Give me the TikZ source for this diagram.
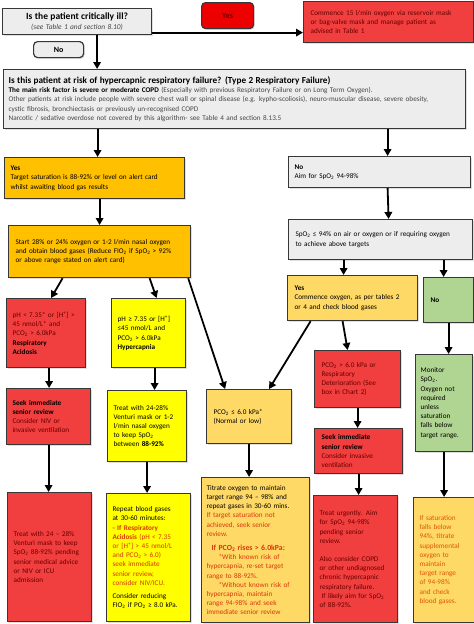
\documentclass[tikz,border=0pt]{standalone}
\usepackage{fontspec}
\setmainfont{Carlito}
\usetikzlibrary{arrows.meta,shadows}

\definecolor{boxline}{RGB}{55,55,55}
\definecolor{greyfill}{RGB}{237,237,237}
\definecolor{greytext}{RGB}{70,70,70}
\definecolor{yesred}{RGB}{236,0,0}
\definecolor{redfill}{RGB}{241,62,62}
\definecolor{amberfill}{RGB}{255,192,0}
\definecolor{paleamber}{RGB}{255,217,102}
\definecolor{yellowfill}{RGB}{255,255,0}
\definecolor{greenfill}{RGB}{176,212,146}
\definecolor{redtext}{RGB}{105,0,0}
\definecolor{warntext}{RGB}{215,55,10}
\definecolor{sattext}{RGB}{220,85,10}

\tikzset{
    box/.style={draw=boxline, line width=1.2pt, anchor=north west, align=left,
        inner xsep=5pt, inner ysep=2pt, font=\fontsize{7.2}{9.2}\selectfont,
        drop shadow={shadow xshift=1.2pt, shadow yshift=-1.2pt, fill=black!25}},
    size/.style 2 args={minimum width=#1, minimum height=#2, text width=#1-10pt},
    arr/.style={-{Triangle[length=7pt,width=7.5pt]}, line width=1.8pt}
}

\begin{document}
\begin{tikzpicture}[x=1pt, y=-1pt]
    \useasboundingbox (0,0) rectangle (474,624);

    % first question
    \node (crit) [box, fill=greyfill, size={149}{26}, align=center] at (2,8) {
        {\fontsize{9.5}{10.5}\selectfont\bfseries Is the patient critically ill?}\\
        {\fontsize{7.4}{8.5}\selectfont\itshape\color{greytext}(see Table 1 and section 8.10)}
    };
    \node (yes) [box, fill=yesred, rounded corners=4pt, size={52}{26}, align=center] at (201,2) {
        \fontsize{8}{9}\selectfont\color{redtext}\textbf{Yes}
    };
    \node (comm) [box, fill=redfill, size={166}{41}, inner xsep=7pt] at (303,1) {
        \color{redtext}Commence 15 l/min oxygen via reservoir mask\\
        or bag-valve mask and manage patient as\\
        advised in Table 1
    };
    \node (no) [box, fill=greyfill, rounded corners=4pt, size={50}{16}, align=center] at (33,41) {
        \fontsize{8}{9}\selectfont\textbf{No}
    };

    % risk of type 2 failure
    \node (risk) [box, fill=greyfill, size={462}{59}] at (3,69) {
        {\fontsize{9.2}{10.5}\selectfont\bfseries Is this patient at risk of hypercapnic respiratory failure? (Type 2 Respiratory Failure)}\\
        \textbf{The main risk factor is severe or moderate COPD} {\color{greytext}(Especially with previous Respiratory Failure or on Long Term Oxygen).}\\
        {\color{greytext}Other patients at risk include people with severe chest wall or spinal disease (e.g. kypho-scoliosis), neuro-muscular disease, severe obesity,}\\
        {\color{greytext}cystic fibrosis, bronchiectasis or previously un-recognised COPD}\\
        {\color{greytext}Narcotic / sedative overdose not covered by this algorithm- see Table 4 and section 8.13.5}
    };

    % left branch
    \node (yesl) [box, fill=amberfill, size={178}{41}, inner xsep=6pt] at (4,157) {
        \textbf{Yes}\\
        Target saturation is 88-92\% or level on alert card\\
        whilst awaiting blood gas results
    };
    \node (start) [box, fill=amberfill, size={178}{52}, inner xsep=7pt] at (8,225) {
        Start 28\% or 24\% oxygen or 1-2 l/min nasal oxygen\\
        and obtain blood gases (Reduce FIO\textsubscript{2} if SpO\textsubscript{2} > 92\%\\
        or above range stated on alert card)
    };
    \node (acid) [box, fill=redfill, size={77}{69}, inner xsep=6pt] at (6,298) {
        \color{redtext}pH < 7.35* or [H\textsuperscript{+}] >\\
        45 nmol/L* and\\
        PCO\textsubscript{2} > 6.0kPa\\
        {\color{black}\textbf{Respiratory}}\\
        {\color{black}\textbf{Acidosis}}
    };
    \node (hyper) [box, fill=yellowfill, size={72}{69}, inner xsep=6pt] at (111,298) {
        pH ≥ 7.35 or [H\textsuperscript{+}]\\
        ≤45 nmol/L and\\
        PCO\textsubscript{2} > 6.0kPa\\
        \textbf{Hypercapnia}
    };
    \node (seekl) [box, fill=redfill, size={82}{56}, inner xsep=6pt] at (6,388) {
        \textbf{Seek immediate}\\
        \textbf{senior review}\\
        {\color{redtext}Consider NIV or}\\
        {\color{redtext}invasive ventilation}
    };
    \node (treaty) [box, fill=yellowfill, size={77}{71}, inner xsep=6pt] at (107,390) {
        Treat with 24-28\%\\
        Venturi mask or 1-2\\
        l/min nasal oxygen\\
        to keep SpO\textsubscript{2}\\
        between \textbf{88-92\%}
    };
    \node (treatl) [box, fill=redfill, size={82}{129}, inner xsep=6pt] at (7,492) {
        \color{redtext}Treat with 24 – 28\%\\
        Venturi mask to keep\\
        SpO\textsubscript{2} 88-92\% pending\\
        senior medical advice\\
        or NIV or ICU\\
        admission
    };
    \node (repeat) [box, fill=yellowfill, size={82}{128}, inner xsep=6pt] at (106,493) {
        Repeat blood gases\\
        at 30-60 minutes:\\
        {\color{warntext}\textbf{- If Respiratory}}\\
        {\color{warntext}\textbf{Acidosis} (pH < 7.35}\\
        {\color{warntext}or [H\textsuperscript{+}] > 45 nmol/L}\\
        {\color{warntext}and PCO\textsubscript{2} > 6.0)}\\
        {\color{warntext}seek immediate}\\
        {\color{warntext}senior review,}\\
        {\color{warntext}consider NIV/ICU.}\\[4pt]
        Consider reducing\\
        FIO\textsubscript{2} if PO\textsubscript{2} ≥ 8.0 kPa.
    };

    % middle column
    \node (pcolo) [box, fill=paleamber, size={81}{54}, inner xsep=7pt] at (206,389) {
        PCO\textsubscript{2} ≤ 6.0 kPa*\\
        (Normal or low)
    };
    \node (titrate) [box, fill=paleamber, size={108}{145}, inner xsep=3pt] at (201,477) {
        Titrate oxygen to maintain\\
        target range 94 – 98\% and\\
        repeat gases in 30-60 mins.\\
        {\color{warntext}If target saturation not}\\
        {\color{warntext}achieved, seek senior}\\
        {\color{warntext}review.}\\[5pt]
        \hspace*{5pt}{\color{warntext}\fontsize{7.8}{9.2}\selectfont\textbf{If PCO\textsubscript{2} rises > 6.0kPa:}}\\
        \hspace*{12pt}{\color{warntext}*With known risk of}\\
        {\color{warntext}hypercapnia, re-set target}\\
        {\color{warntext}range to 88-92\%.}\\
        \hspace*{12pt}{\color{warntext}*Without known risk of}\\
        {\color{warntext}hypercapnia, maintain}\\
        {\color{warntext}range 94-98\% and seek}\\
        {\color{warntext}immediate senior review}
    };

    % right branch
    \node (nor) [box, fill=greyfill, size={180}{31}, inner xsep=6pt] at (288,156) {
        \textbf{No}\\
        Aim for SpO\textsubscript{2} 94-98\%
    };
    \node (spo) [box, fill=greyfill, size={180}{40}, inner xsep=7pt] at (288,219) {
        SpO\textsubscript{2} ≤ 94\% on air or oxygen or if requiring oxygen\\
        to achieve above targets
    };
    \node (yesr) [box, fill=paleamber, size={126}{45}, inner xsep=7pt] at (287,275) {
        \textbf{Yes}\\
        Commence oxygen, as per tables 2\\
        or 4 and check blood gases
    };
    \node (nog) [box, fill=greenfill, size={46}{45}, inner xsep=7pt] at (423,277) {
        \textbf{No}
    };
    \node (pcohi) [box, fill=redfill, size={82}{57}, inner xsep=7pt] at (314,350) {
        \color{redtext}PCO\textsubscript{2} > 6.0 kPa or\\
        Respiratory\\
        Deterioration (See\\
        box in Chart 2)
    };
    \node (seekr) [box, fill=redfill, size={84}{45}, inner xsep=7pt] at (314,428) {
        \textbf{Seek immediate}\\
        \textbf{senior review}\\
        {\color{redtext}Consider invasive}\\
        {\color{redtext}ventilation}
    };
    \node (treatu) [box, fill=redfill, size={84}{127}, inner xsep=5pt] at (313,495) {
        \color{redtext}\hspace*{1pt}Treat urgently. Aim\\
        \hspace*{1pt}for SpO\textsubscript{2} 94-98\%\\
        \hspace*{1pt}pending senior\\
        \hspace*{1pt}review.\\[9pt]
        \hspace*{1pt}Also consider COPD\\
        \hspace*{1pt}or other undiagnosed\\
        \hspace*{1pt}chronic hypercapnic\\
        \hspace*{1pt}respiratory failure.\\
        \hspace*{3pt}If likely aim for SpO\textsubscript{2}\\
        \hspace*{1pt}of 88-92\%.
    };
    \node (mon) [box, fill=greenfill, size={57}{97}, inner xsep=5pt] at (415,354) {
        Monitor\\
        SpO\textsubscript{2}.\\
        Oxygen not\\
        required\\
        unless\\
        saturation\\
        falls below\\
        target range.
    };
    \node (ifsat) [box, fill=paleamber, size={59}{125}, inner xsep=6pt] at (413,497) {
        \color{sattext}If saturation\\
        falls below\\
        94\%, titrate\\
        supplemental\\
        oxygen to\\
        maintain\\
        target range\\
        of 94-98\%\\
        and check\\
        blood gases.
    };

    % connectors
    \draw[arr] ([xshift=20pt]crit.south) -- ([xshift=20pt]crit.south |- risk.north);
    \draw[arr] ([yshift=-11pt]crit.east) -- ([yshift=-11pt]crit.east -| comm.west);
    \draw[arr] ([xshift=3pt]yesl.north |- risk.south) -- ([xshift=3pt]yesl.north);
    \draw[arr] ([xshift=8pt]nor.north |- risk.south) -- ([xshift=8pt]nor.north);
    \draw[arr] (yesl.south -| start.north) -- (start.north);
    \draw[arr] ([xshift=8pt]nor.south) -- ([xshift=8pt]spo.north);
    \draw[arr] ([xshift=-9pt]yesr.north |- spo.south) -- ([xshift=-9pt]yesr.north);
    \draw[arr] ([xshift=-5pt]nog.north |- spo.south) -- ([xshift=-5pt]nog.north);
    \draw[arr] (nog.south) -- (nog.south |- mon.north);
    \draw[arr] (mon.south) -- (mon.south |- ifsat.north);
    \draw[arr] ([xshift=-10pt]yesr.south) -- ([xshift=-10pt]pcohi.north);
    \draw[arr] ([xshift=-42pt]yesr.south) -- ([xshift=20pt]pcolo.north);
    \draw[arr] ([xshift=-3pt]start.south east) -- ([xshift=-24pt]pcolo.north);
    \draw[arr] ([xshift=-37pt]start.south) -- ([xshift=5pt]acid.north);
    \draw[arr] ([xshift=50pt]start.south) -- ([xshift=8pt]hyper.north);
    \draw[arr] ([xshift=3pt]acid.south) -- ([xshift=3pt]acid.south |- seekl.north);
    \draw[arr] ([xshift=6pt]hyper.south) -- ([xshift=6pt]hyper.south |- treaty.north);
    \draw[arr] (seekl.south) -- (seekl.south |- treatl.north);
    \draw[arr] (treaty.south) -- (treaty.south |- repeat.north);
    \draw[arr] (pcolo.south) -- (pcolo.south |- titrate.north);
    \draw[arr] (pcohi.south) -- (pcohi.south |- seekr.north);
    \draw[arr] (seekr.south) -- (seekr.south |- treatu.north);
\end{tikzpicture}
\end{document}
